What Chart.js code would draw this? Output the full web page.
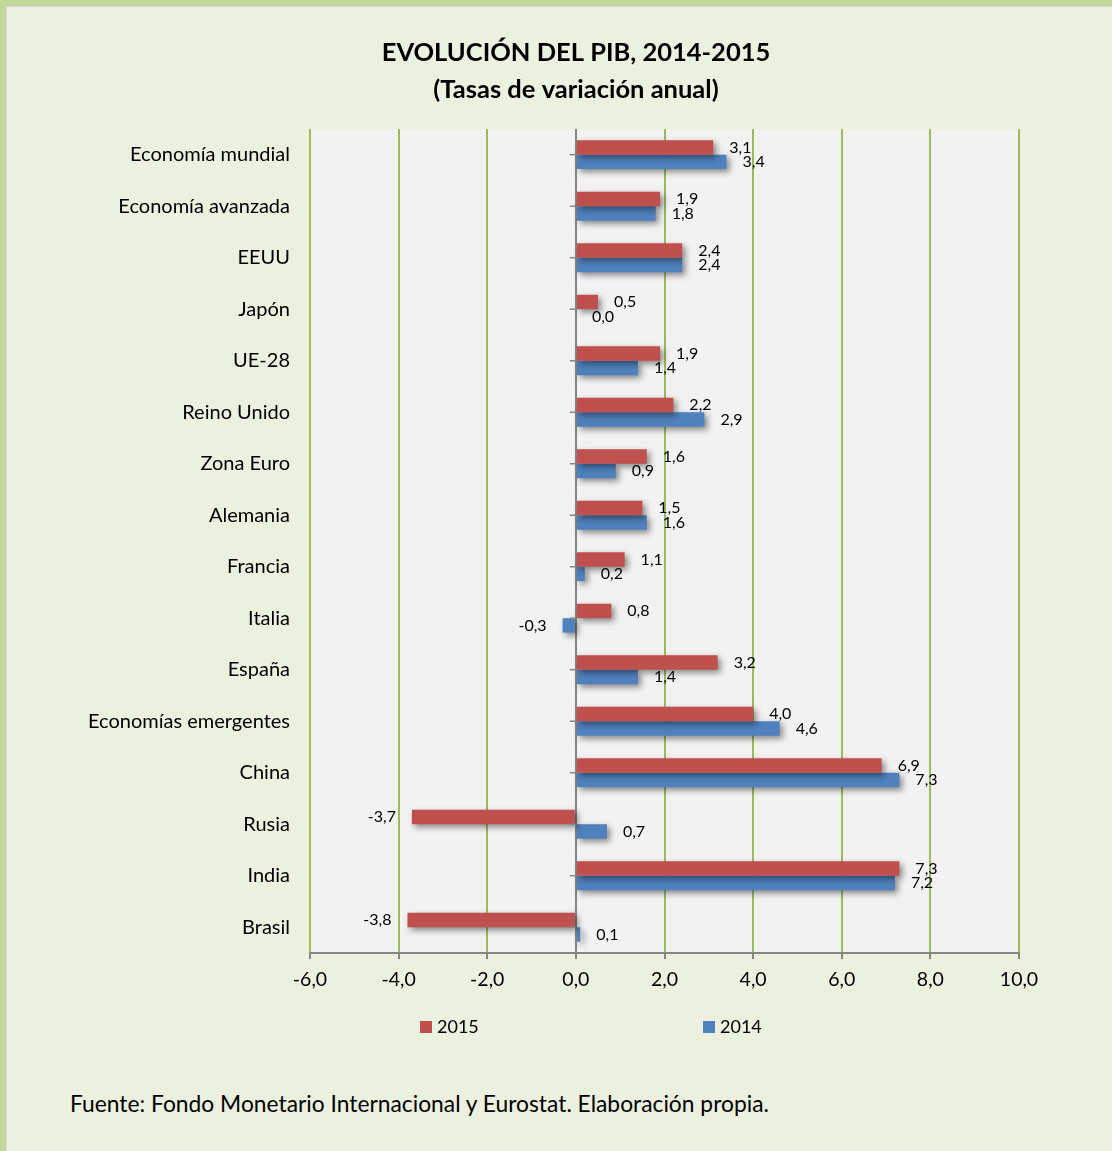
<!DOCTYPE html>
<html>
<head>
    <title>Evolución del PIB</title>
    <style>
        body {
            margin: 0;
            width: 1112px;
            height: 1151px;
            overflow: hidden;
            background-color: #C4D79B;
            font-family: Lato, sans-serif;
        }
        .panel {
            position: absolute;
            left: 6px;
            top: 6px;
            width: 1200px;
            height: 1200px;
            background-color: #EBF1DE;
            border-left: 1px solid #D9D9D9;
            border-top: 1px solid #D9D9D9;
        }
        .chart-container {
            position: absolute;
            left: 6px;
            top: 6px;
            width: 1140px;
            height: 1060px;
        }
        .note {
            position: absolute;
            left: 70px;
            top: 1089px;
            font-size: 22.8px;
            color: #000;
        }
    </style>
    <script src="https://cdn.jsdelivr.net/npm/chart.js"></script>
</head>
<body>
    <div class="panel"></div>
    <div class="chart-container">
        <canvas id="pibChart"></canvas>
    </div>
    <div class="note">Fuente: Fondo Monetario Internacional y Eurostat. Elaboración propia.</div>

    <script>
        var categories = ['Economía mundial', 'Economía avanzada', 'EEUU', 'Japón', 'UE-28', 'Reino Unido',
            'Zona Euro', 'Alemania', 'Francia', 'Italia', 'España', 'Economías emergentes',
            'China', 'Rusia', 'India', 'Brasil'];
        var values2015 = [3.1, 1.9, 2.4, 0.5, 1.9, 2.2, 1.6, 1.5, 1.1, 0.8, 3.2, 4.0, 6.9, -3.7, 7.3, -3.8];
        var values2014 = [3.4, 1.8, 2.4, 0.0, 1.4, 2.9, 0.9, 1.6, 0.2, -0.3, 1.4, 4.6, 7.3, 0.7, 7.2, 0.1];
        var seriesNames = ['2015', '2014'];
        var xMin = -6, xMax = 10, xStep = 2;

        var RED = '#C0504D';
        var BLUE = '#4F81BD';
        var GREEN_GRID = '#9BBB59';
        var AXIS_GRAY = '#868686';
        var FONT = 'Lato, sans-serif';

        function fmt(v) {
            return v.toFixed(1).replace('.', ',');
        }

        // plot background + bar shadows + value labels + little ticks on zero line
        var decorPlugin = {
            id: 'decor',
            beforeDraw: function (chart) {
                var a = chart.chartArea, ctx = chart.ctx;
                ctx.save();
                ctx.fillStyle = '#F2F2F2';
                ctx.fillRect(a.left, a.top, a.right - a.left, a.bottom - a.top);
                ctx.restore();
            },
            beforeDatasetsDraw: function (chart) {
                var ctx = chart.ctx;
                ctx.save();
                ctx.shadowColor = 'rgba(0,0,0,0.45)';
                ctx.shadowBlur = 6;
                ctx.shadowOffsetX = 3;
                ctx.shadowOffsetY = 3;
            },
            afterDatasetsDraw: function (chart) {
                var ctx = chart.ctx;
                ctx.restore();

                var x0 = chart.scales.x.getPixelForValue(0);
                var ys = chart.scales.y;
                ctx.save();
                ctx.strokeStyle = AXIS_GRAY;
                ctx.lineWidth = 1.5;
                for (var i = 0; i < categories.length; i++) {
                    var yy = ys.getPixelForTick(i);
                    ctx.beginPath();
                    ctx.moveTo(x0 - 6, yy);
                    ctx.lineTo(x0, yy);
                    ctx.stroke();
                }

                ctx.fillStyle = '#000';
                ctx.font = '16px ' + FONT;
                ctx.textBaseline = 'middle';
                chart.data.datasets.forEach(function (ds, di) {
                    var meta = chart.getDatasetMeta(di);
                    meta.data.forEach(function (bar, i) {
                        var v = ds.data[i];
                        if (v >= 0) {
                            ctx.textAlign = 'left';
                            ctx.fillText(fmt(v), bar.x + 16, bar.y);
                        } else {
                            ctx.textAlign = 'right';
                            ctx.fillText(fmt(v), bar.x - 16, bar.y);
                        }
                    });
                });
                ctx.restore();
            },
            afterDraw: function (chart) {
                // legend, spread out like the original
                var a = chart.chartArea, ctx = chart.ctx;
                var y = a.bottom + 74;
                var spots = [a.left + 110, a.left + 393];
                ctx.save();
                ctx.font = '18px ' + FONT;
                ctx.textBaseline = 'middle';
                ctx.textAlign = 'left';
                chart.data.datasets.forEach(function (ds, di) {
                    ctx.fillStyle = ds.backgroundColor;
                    ctx.fillRect(spots[di], y - 6, 12, 12);
                    ctx.fillStyle = '#000';
                    ctx.fillText(ds.label, spots[di] + 17, y);
                });
                ctx.restore();
            }
        };

        var pibChart = new Chart(document.getElementById('pibChart'), {
            type: 'bar',
            data: {
                labels: categories,
                datasets: [
                    {
                        label: seriesNames[0],
                        data: values2015,
                        backgroundColor: RED,
                        categoryPercentage: 0.56,
                        barPercentage: 1.0
                    },
                    {
                        label: seriesNames[1],
                        data: values2014,
                        backgroundColor: BLUE,
                        categoryPercentage: 0.56,
                        barPercentage: 1.0
                    }
                ]
            },
            options: {
                indexAxis: 'y',
                responsive: true,
                maintainAspectRatio: false,
                animation: false,
                layout: {
                    padding: { left: 0, right: 0, top: 0, bottom: 73 }
                },
                plugins: {
                    legend: { display: false },
                    tooltip: { enabled: false },
                    title: {
                        display: true,
                        text: ['EVOLUCIÓN DEL PIB, 2014-2015', '(Tasas de variación anual)'],
                        color: '#000',
                        font: { family: FONT, size: 25.5, weight: 'bold', lineHeight: 1.45 },
                        padding: { top: 28, bottom: 21 }
                    }
                },
                scales: {
                    x: {
                        min: xMin,
                        max: xMax,
                        afterFit: function (scale) { scale.height = 40; },
                        ticks: {
                            stepSize: xStep,
                            padding: 9,
                            color: '#000',
                            font: { family: FONT, size: 19.5 },
                            callback: function (v) { return fmt(v); }
                        },
                        grid: {
                            color: function (c) { return c.tick && c.tick.value === 0 ? AXIS_GRAY : GREEN_GRID; },
                            lineWidth: 2,
                            tickColor: AXIS_GRAY,
                            tickLength: 6
                        },
                        border: { color: AXIS_GRAY, width: 2 }
                    },
                    y: {
                        afterFit: function (scale) { scale.width = 304; },
                        ticks: {
                            padding: 20,
                            color: '#000',
                            font: { family: FONT, size: 20 }
                        },
                        grid: { display: false, drawTicks: false },
                        border: { display: false }
                    },
                    // empty right-hand box: reserves the space right of the plot
                    // so the title stays centred over the whole panel
                    yRight: {
                        axis: 'y',
                        position: 'right',
                        afterFit: function (scale) { scale.width = 127; },
                        ticks: { display: false },
                        grid: { display: false, drawTicks: false },
                        border: { display: false }
                    }
                }
            },
            plugins: [decorPlugin]
        });
    </script>
</body>
</html>
